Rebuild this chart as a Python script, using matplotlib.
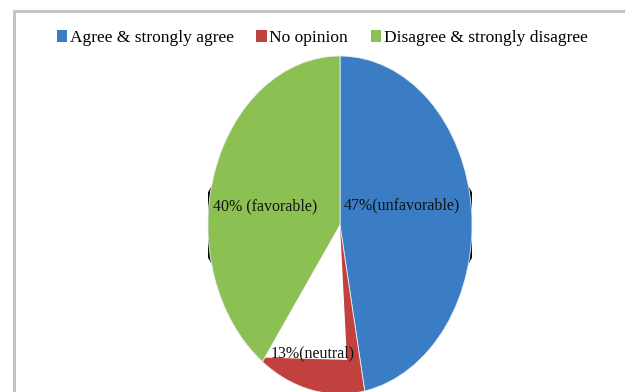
import numpy as np
import matplotlib
matplotlib.use("Agg")
import matplotlib.pyplot as plt
from matplotlib.patches import Ellipse, Polygon, Rectangle

# Survey responses
categories = ["Agree & strongly agree", "No opinion", "Disagree & strongly disagree"]
shares = [47, 13, 40]
slice_labels = ["47%(unfavorable)", "13%(neutral)", "40% (favorable)"]
colors = ["#3a7dc5", "#c0413d", "#8cc053"]

W, H = 625, 392
fig = plt.figure(figsize=(W / 100, H / 100), dpi=100)
fig.patch.set_facecolor("white")

# outer frame
fig.add_artist(Rectangle((14 / W, -0.05), (612 - 14) / W + 0.05, (392 - 11) / H + 0.05,
                         transform=fig.transFigure, fill=False,
                         edgecolor="#c4c4c4", linewidth=2.2))

# pie axes: the unit circle is stretched into a tall ellipse
cx, cy, rx, ry = 340, 225, 132, 169
ax = fig.add_axes([(cx - rx) / W, 1 - (cy + ry) / H, 2 * rx / W, 2 * ry / H])
ax.patch.set_alpha(0)

# dark shadow showing at the left and right rims
ax.add_patch(Ellipse((0, 0), 2 * 140 / 132, 2 * 98 / 169, facecolor="#0a0a0a",
                     edgecolor="none", zorder=0))

wedges, _ = ax.pie(shares, colors=colors, startangle=90, counterclock=False,
                   radius=1.0,
                   wedgeprops=dict(edgecolor="#e8eef4", linewidth=0.6))
ax.set_aspect("auto")
ax.set_xlim(-1, 1)
ax.set_ylim(-1, 1)
for w in wedges:
    w.set_zorder(1)

# hollow centre of the small slice
red = wedges[1]
t1 = np.deg2rad(red.theta1)
t2 = np.deg2rad(red.theta2 - 7)
ax.add_patch(Polygon([(0, 0), (0.97 * np.cos(t1), 0.97 * np.sin(t1)),
                      (0.80 * np.cos(t2), 0.80 * np.sin(t2))],
                     closed=True, facecolor="white", edgecolor="none", zorder=2))

font = dict(family="Liberation Serif", fontsize=11.5, color="#111111", zorder=5)
label_pos = [(0.466, 0.118), (-0.205, -0.76), (-0.57, 0.11)]
for txt, (x, y) in zip(slice_labels, label_pos):
    ax.text(x, y, txt, ha="center", va="center", **font)

leg = fig.legend(wedges, categories, loc="center", bbox_to_anchor=(322 / W, 1 - 38 / H),
                 ncol=3, frameon=False, handlelength=0.6, handleheight=0.7,
                 handletextpad=0.15, columnspacing=1.3,
                 prop=dict(family="Liberation Serif", size=12.5))
for h in leg.legend_handles:
    h.set_edgecolor("none")

fig.savefig("out.png", dpi=100)
